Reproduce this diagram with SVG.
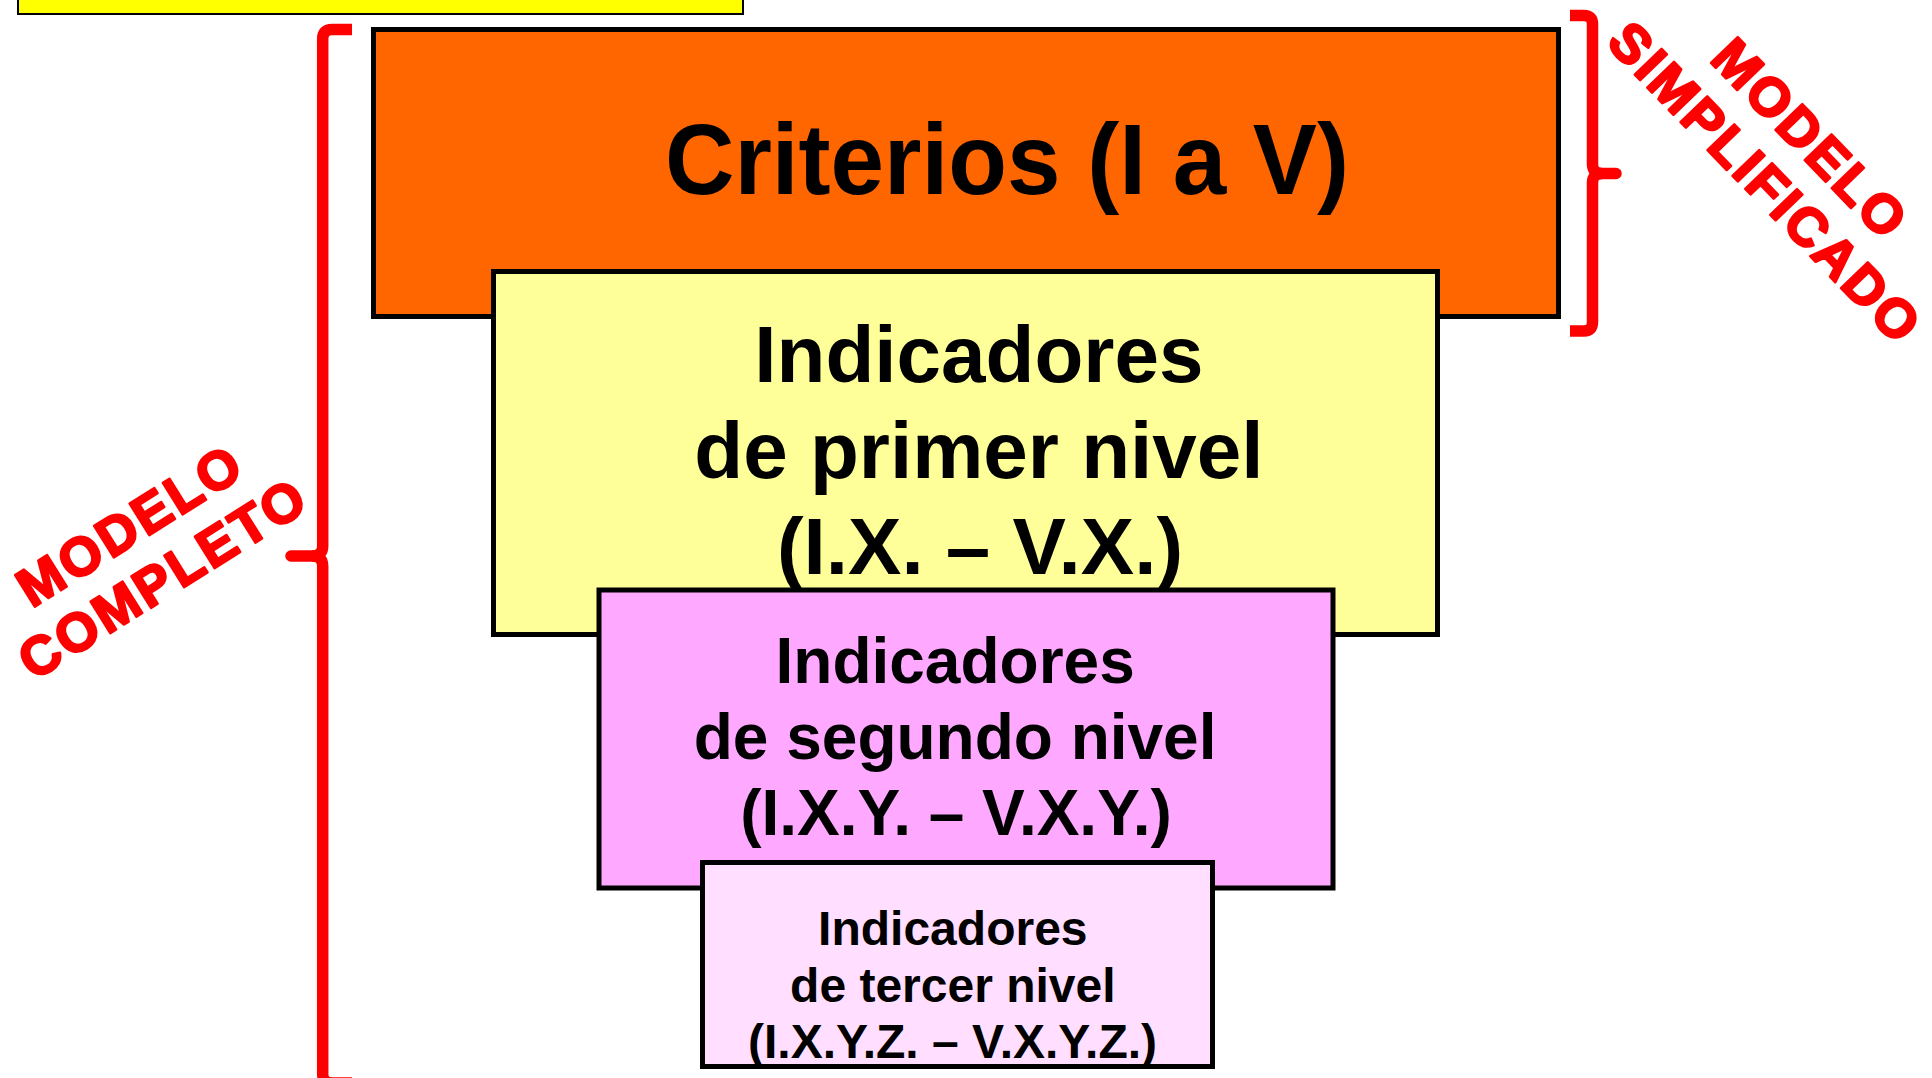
<svg xmlns="http://www.w3.org/2000/svg" width="1932" height="1078" viewBox="0 0 1932 1078">
  <style>
    .box { stroke: #000000; stroke-width: 5; }
    .t { font-family: "Liberation Sans", Arial, sans-serif; font-weight: bold; fill: #000000; text-anchor: middle; }
    .lbl { font-family: "Liberation Sans", Arial, sans-serif; font-weight: bold; font-size: 54px; fill: #FF0000; stroke: #FF0000; stroke-width: 2.5; stroke-linejoin: round; letter-spacing: 3px; text-anchor: middle; }
    .brace { fill: none; stroke: #FF0000; stroke-width: 11.5; stroke-linejoin: round; }
  </style>
  <rect width="1932" height="1078" fill="#FFFFFF"/>

  <g id="node-top">
    <rect x="18" y="-10" width="725" height="24" fill="#FFFF00" stroke="#000000" stroke-width="2"/>
  </g>

  <g id="node-criterios">
    <rect class="box" x="373.5" y="29.5" width="1185" height="287" fill="#FF6600"/>
    <text class="t" x="1007" y="194" font-size="100" textLength="684" lengthAdjust="spacingAndGlyphs">Criterios (I a V)</text>
  </g>

  <g id="node-primer-nivel">
    <rect class="box" x="493.5" y="271.5" width="944" height="363" fill="#FFFF99"/>
    <text class="t" font-size="80">
      <tspan x="990" y="381.5">Indicadores</tspan>
      <tspan x="990" y="478">de primer nivel</tspan>
      <tspan x="980" y="573.5">(I.X. – V.X.)</tspan>
    </text>
  </g>

  <g id="node-segundo-nivel">
    <rect class="box" x="599" y="590" width="734" height="298" fill="#FFA8FF"/>
    <text class="t" font-size="64">
      <tspan x="964" y="683">Indicadores</tspan>
      <tspan x="964" y="759">de segundo nivel</tspan>
      <tspan x="956" y="835">(I.X.Y. – V.X.Y.)</tspan>
    </text>
  </g>

  <g id="node-tercer-nivel">
    <rect class="box" x="702.5" y="862.5" width="510" height="204" fill="#FFDEFF"/>
    <text class="t" font-size="48">
      <tspan x="959.5" y="945">Indicadores</tspan>
      <tspan x="959.5" y="1001.5">de tercer nivel</tspan>
      <tspan x="952.5" y="1058">(I.X.Y.Z. – V.X.Y.Z.)</tspan>
    </text>
  </g>

  <g id="connectors">
    <path id="brace-completo" class="brace" d="M352,29.5 H332 Q322.7,29.5 322.7,39 V546 Q322.7,556 312,556 M312,556 Q322.7,556 322.7,566 V1074 Q322.7,1083 332,1083 H352"/>
    <path class="brace" d="M314,556 H291" stroke-linecap="round"/>
    <path id="brace-simplificado" class="brace" d="M1570,15.5 H1584 Q1592.5,15.5 1592.5,24 V164 Q1592.5,173.5 1602,173.5 M1602,173.5 Q1592.5,173.5 1592.5,183 V322 Q1592.5,331 1584,331 H1570"/>
    <path class="brace" d="M1600,173.5 H1616" stroke-linecap="round"/>
  </g>

  <g id="label-completo">
    <text class="lbl" transform="translate(140,541) rotate(-32)">MODELO</text>
    <text class="lbl" transform="translate(173,594) rotate(-32)">COMPLETO</text>
  </g>

  <g id="label-simplificado">
    <text class="lbl" transform="translate(1797,152) rotate(46)">MODELO</text>
    <text class="lbl" transform="translate(1752,196) rotate(46)">SIMPLIFICADO</text>
  </g>
</svg>
